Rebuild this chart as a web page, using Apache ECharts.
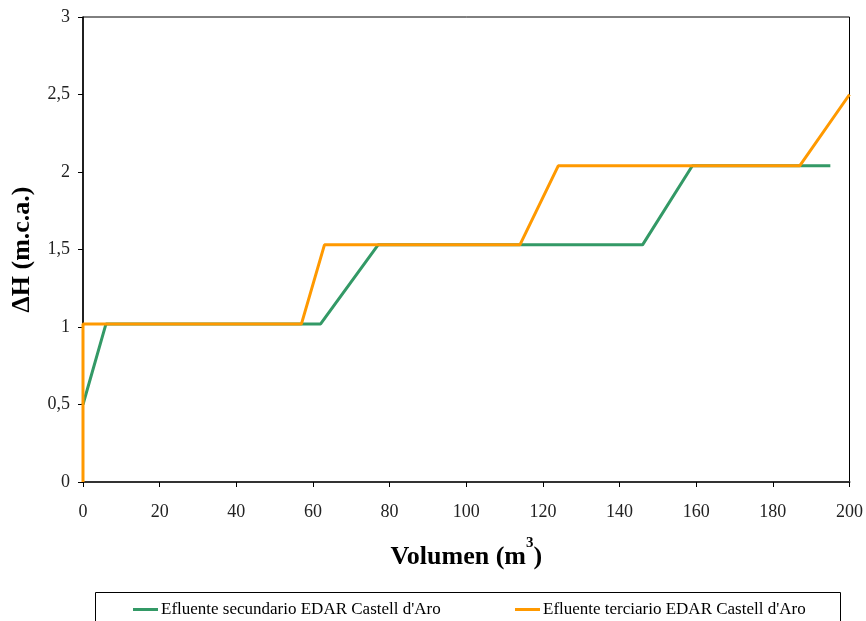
<!DOCTYPE html>
<html><head><meta charset="utf-8">
<script src="https://cdn.jsdelivr.net/npm/echarts@6/dist/echarts.min.js"></script>
<style>html,body{margin:0;padding:0;background:#fff}#c{width:866px;height:621px}</style>
</head><body><div id="c"></div>
<script>
var secName = "Efluente secundario EDAR Castell d'Aro";
var terName = "Efluente terciario EDAR Castell d'Aro";
var secX = [0, 6, 62, 77, 146, 159, 195];
var secY = [0.5, 1.02, 1.02, 1.53, 1.53, 2.04, 2.04];
var terX = [0, 0, 57, 63, 114, 124, 187, 200];
var terY = [0, 1.02, 1.02, 1.53, 1.53, 2.04, 2.04, 2.5];
function pairs(xs, ys){ return xs.map(function(x,i){ return [x, ys[i]]; }); }
var font = "'Liberation Serif', 'DejaVu Serif', serif";
var chart = echarts.init(document.getElementById('c'));
chart.setOption({
  animation: false,
  backgroundColor: '#fff',
  grid: { left: 83, right: 15, top: 17, bottom: 139, show: true, borderColor: '#000', borderWidth: 1 },
  xAxis: {
    type: 'value', min: 0, max: 200, interval: 20,
    name: '{a|Volumen (m}{s|3}{a|)}', nameLocation: 'middle', nameGap: 54,
    nameTextStyle: { rich: {
      a: { fontFamily: font, fontWeight: 'bold', fontSize: 26, color: '#000', verticalAlign: 'bottom', lineHeight: 34 },
      s: { fontFamily: font, fontWeight: 'bold', fontSize: 15, color: '#000', verticalAlign: 'top', lineHeight: 34, padding: [0,0,16,0] }
    } },
    axisLine: { lineStyle: { color: '#333', width: 2 } },
    axisTick: { show: true, length: 5, lineStyle: { color: '#000' } },
    axisLabel: { fontFamily: font, fontSize: 18, color: '#222', margin: 21 },
    splitLine: { show: false }
  },
  yAxis: {
    type: 'value', min: 0, max: 3, interval: 0.5,
    name: 'ΔH (m.c.a.)', nameLocation: 'middle', nameGap: 48, nameRotate: 90,
    nameTextStyle: { fontFamily: font, fontWeight: 'bold', fontSize: 26, color: '#000' },
    axisLine: { show: true, lineStyle: { color: '#000', width: 1.5 } },
    axisTick: { show: true, length: 5, lineStyle: { color: '#000' } },
    axisLabel: { fontFamily: font, fontSize: 18, color: '#222', margin: 13,
      formatter: function(v){ return String(v).replace('.', ','); } },
    splitLine: { show: false }
  },
  legend: [
    { data: [secName], left: 128, top: 596, itemWidth: 25, itemHeight: 3, itemGap: 5, icon: 'rect',
      textStyle: { fontFamily: font, fontSize: 17, color: '#000', padding: [0,0,0,-2] } },
    { data: [terName], left: 510, top: 596, itemWidth: 25, itemHeight: 3, itemGap: 5, icon: 'rect',
      textStyle: { fontFamily: font, fontSize: 17, color: '#000', padding: [0,0,0,-2] } }
  ],
  graphic: [
    { type: 'rect', shape: { x: 95.5, y: 592.5, width: 745, height: 40 }, style: { fill: 'none', stroke: '#000', lineWidth: 1 }, z: 0 }
  ],
  series: [
    { name: secName, type: 'line', data: pairs(secX, secY), showSymbol: false, symbol: 'none',
      lineStyle: { color: '#339966', width: 3 }, itemStyle: { color: '#339966' } },
    { name: terName, type: 'line', data: pairs(terX, terY), showSymbol: false, symbol: 'none',
      lineStyle: { color: '#FF9900', width: 3 }, itemStyle: { color: '#FF9900' } }
  ]
});
</script></body></html>
